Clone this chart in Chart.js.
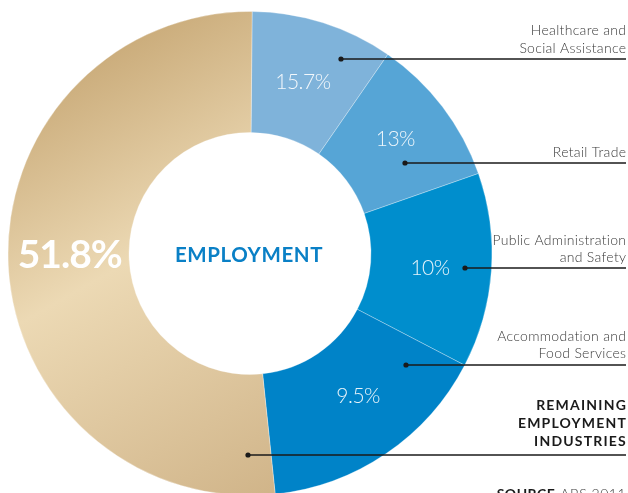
<!DOCTYPE html>
<html>
<head>
<meta charset="utf-8">
<script src="https://cdn.jsdelivr.net/npm/chart.js@4.4.1/dist/chart.umd.min.js"></script>
<style>
  html, body { margin: 0; padding: 0; background: #fff; overflow: hidden; }
  #wrap { position: relative; width: 628px; height: 493px; overflow: hidden; }
  canvas { display: block; }
</style>
</head>
<body>
<div id="wrap"><canvas id="chart-employment" width="628" height="510"></canvas></div>
<script>
// ============================================
// Employment by industry - doughnut
// ============================================

const industries = [
    'Healthcare and Social Assistance',
    'Retail Trade',
    'Public Administration and Safety',
    'Accommodation and Food Services',
    'Remaining Employment Industries'
];

// slice sizes as drawn in the graphic (clockwise from 12 o'clock)
const arcShares = [9.5, 10, 13, 15.7, 51.8];

// figures printed on the slices
const valueLabels = ['15.7%', '13%', '10%', '9.5%', '51.8%'];

// right-hand captions, one entry per line
const captionLines = [
    ['Healthcare and', 'Social Assistance'],
    ['Retail Trade'],
    ['Public Administration', 'and Safety'],
    ['Accommodation and', 'Food Services'],
    ['REMAINING', 'EMPLOYMENT', 'INDUSTRIES']
];

const COLORS = {
    healthcare: '#7fb3da',
    retail: '#56a5d6',
    publicAdmin: '#008ecd',
    accommodation: '#0083c8',
    goldDark: '#c6a673',
    goldLight: '#ecd9b4',
    goldBottom: '#cdb084',
    title: '#0a80c6',
    ink: '#1a1a1a',
    caption: '#3a3a3a'
};

// leader lines: dot position and line y (all end at the right edge)
const LEADERS = [
    { dotX: 341, y: 59, textY: [30, 48] },
    { dotX: 405, y: 163, textY: [152] },
    { dotX: 465, y: 268, textY: [240, 257] },
    { dotX: 406, y: 365, textY: [336, 353] },
    { dotX: 248, y: 455, textY: [405, 423, 441] }
];
const RIGHT_EDGE = 626;

// small nudges of the slice figures from the arc centroid
const NUDGE = [[-2, 2], [1, -4], [-1, 2], [6, -7], [1, -7]];

function goldGradient(ctx) {
    const g = ctx.createLinearGradient(70, 40, 330, 500);
    g.addColorStop(0, COLORS.goldDark);
    g.addColorStop(0.42, COLORS.goldLight);
    g.addColorStop(1, COLORS.goldBottom);
    return g;
}

const labelsPlugin = {
    id: 'employmentLabels',
    afterDatasetsDraw(chart) {
        const ctx = chart.ctx;
        const meta = chart.getDatasetMeta(0);
        ctx.save();
        ctx.textAlign = 'center';
        ctx.textBaseline = 'middle';

        // slice figures
        meta.data.forEach((arc, i) => {
            const p = arc.tooltipPosition();
            const last = i === meta.data.length - 1;
            ctx.fillStyle = last ? '#ffffff' : 'rgba(255,255,255,0.9)';
            ctx.font = last ? '700 39px Lato' : '300 21px Lato';
            ctx.letterSpacing = last ? '-1px' : '-0.5px';
            ctx.fillText(valueLabels[i], p.x + NUDGE[i][0], p.y + NUDGE[i][1]);
        });

        // centre title
        ctx.letterSpacing = '0.6px';
        ctx.fillStyle = COLORS.title;
        ctx.font = '700 20.5px Lato';
        ctx.fillText('EMPLOYMENT', meta.data[0].x - 1, meta.data[0].y + 2);

        // leaders and captions
        ctx.textAlign = 'right';
        LEADERS.forEach((l, i) => {
            ctx.strokeStyle = COLORS.ink;
            ctx.lineWidth = 1.5;
            ctx.beginPath();
            ctx.moveTo(l.dotX, l.y);
            ctx.lineTo(RIGHT_EDGE, l.y);
            ctx.stroke();
            ctx.fillStyle = COLORS.ink;
            ctx.beginPath();
            ctx.arc(l.dotX, l.y, 2.6, 0, Math.PI * 2);
            ctx.fill();

            const bold = i === LEADERS.length - 1;
            ctx.font = bold ? '700 14px Lato' : '300 14px Lato';
            ctx.letterSpacing = bold ? '1.2px' : '0.3px';
            ctx.fillStyle = bold ? COLORS.ink : COLORS.caption;
            captionLines[i].forEach((line, k) => {
                ctx.fillText(line, RIGHT_EDGE + (bold ? 1 : 0.3), l.textY[k]);
            });
        });

        // source line (cut by the bottom edge)
        ctx.letterSpacing = '0.5px';
        ctx.font = '300 14px Lato';
        ctx.fillStyle = COLORS.caption;
        ctx.fillText('ABS 2011', RIGHT_EDGE, 494);
        const w = ctx.measureText('ABS 2011').width;
        ctx.font = '700 14px Lato';
        ctx.fillStyle = COLORS.ink;
        ctx.fillText('SOURCE', RIGHT_EDGE - w - 5, 494);
        ctx.restore();
    }
};

const canvas = document.getElementById('chart-employment');
new Chart(canvas, {
    type: 'doughnut',
    data: {
        labels: industries,
        datasets: [{
            data: arcShares,
            backgroundColor: ctx => {
                const fixed = [COLORS.healthcare, COLORS.retail, COLORS.publicAdmin, COLORS.accommodation];
                return ctx.dataIndex < fixed.length ? fixed[ctx.dataIndex] : goldGradient(ctx.chart.ctx);
            },
            borderWidth: 1,
            borderColor: 'rgba(255,255,255,0.3)',
            hoverOffset: 0
        }]
    },
    options: {
        responsive: false,
        animation: false,
        cutout: '50%',
        rotation: 0.5,
        layout: { padding: { left: 7, right: 135, top: 11, bottom: 14 } },
        plugins: {
            legend: { display: false },
            tooltip: { enabled: false }
        }
    },
    plugins: [labelsPlugin]
});
</script>
</body>
</html>
